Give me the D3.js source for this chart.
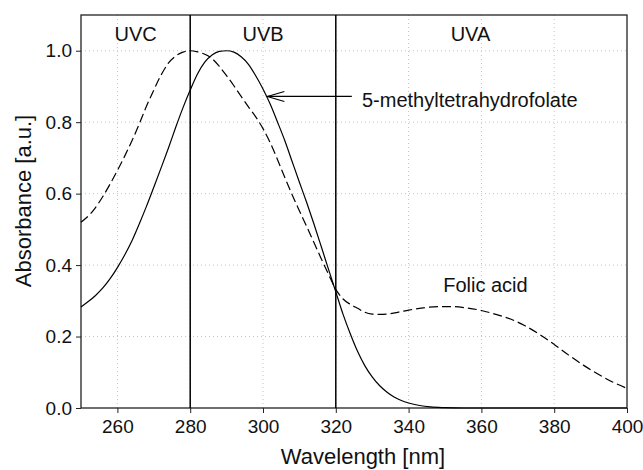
<!DOCTYPE html>
<html>
<head>
<meta charset="utf-8">
<script src="https://cdn.jsdelivr.net/npm/d3@7"></script>
<style>
  body { margin: 0; background: #fff; }
  svg { font-family: "Liberation Sans", Arial, Helvetica, sans-serif; }
</style>
</head>
<body>
<div id="chart"></div>
<script>
// wavelength [nm] / absorbance pairs
let mthfWave = [250, 252, 254, 256, 258, 260, 262, 264, 266, 268, 270, 272, 274, 276, 278, 280, 282, 284, 286, 288, 290,
    292, 294, 296, 298, 300, 302, 304, 306, 308, 310, 312, 314, 316, 318, 320, 322, 324, 326, 328, 330,
    332, 334, 336, 338, 340, 343, 346, 350, 355, 360, 370, 380, 390, 400];
let mthfAbs = [0.283, 0.298, 0.315, 0.336, 0.362, 0.393, 0.428, 0.468, 0.515, 0.565, 0.618, 0.672, 0.727, 0.785, 0.840, 0.890, 0.935, 0.968, 0.988, 0.998, 1.000,
    0.996, 0.983, 0.962, 0.930, 0.893, 0.850, 0.800, 0.748, 0.690, 0.632, 0.575, 0.515, 0.452, 0.388, 0.325, 0.262, 0.207, 0.158, 0.118, 0.087,
    0.063, 0.045, 0.031, 0.021, 0.014, 0.007, 0.003, 0.001, 0, 0, 0, 0, 0, 0];

let folicWave = [250, 253, 256, 258, 260, 262, 264, 266, 268, 270, 272, 274, 276, 278, 280, 282, 284, 286, 288, 290,
    292, 294, 296, 298, 300, 302, 304, 306, 308, 310, 312, 314, 316, 318, 320, 322, 324, 326, 328, 330,
    332, 335, 338, 340, 344, 348, 352, 356, 360, 364, 368, 372, 376, 380, 384, 388, 392, 396, 400];
let folicAbs = [0.520, 0.548, 0.592, 0.627, 0.665, 0.705, 0.748, 0.795, 0.845, 0.890, 0.932, 0.965, 0.985, 0.996, 1.000, 0.997, 0.990, 0.978, 0.956, 0.930,
    0.902, 0.872, 0.843, 0.815, 0.782, 0.742, 0.695, 0.645, 0.597, 0.552, 0.508, 0.463, 0.418, 0.374, 0.332, 0.305, 0.290, 0.279, 0.268, 0.263,
    0.262, 0.264, 0.270, 0.274, 0.280, 0.284, 0.284, 0.280, 0.273, 0.262, 0.249, 0.230, 0.206, 0.178, 0.148, 0.120, 0.095, 0.073, 0.055];

let xTicks = [260, 280, 300, 320, 340, 360, 380, 400];
let yTicks = [0.0, 0.2, 0.4, 0.6, 0.8, 1.0];

// UV band borders and labels
let bandEdges = [280, 320];
let bandNames = ["UVC", "UVB", "UVA"];
let bandCenters = [265, 300, 357];

let width = 643, height = 470;
let margin = {top: 15, right: 16, bottom: 62, left: 81};

let x = d3.scaleLinear().domain([250, 400]).range([margin.left, width - margin.right]);
let y = d3.scaleLinear().domain([0, 1.1]).range([height - margin.bottom, margin.top]);

let svg = d3.select("#chart").append("svg")
    .attr("width", width)
    .attr("height", height);

// dotted grid
svg.append("g")
    .selectAll("line")
    .data(xTicks.filter(d => d < 400))
    .enter().append("line")
    .attr("x1", d => x(d)).attr("x2", d => x(d))
    .attr("y1", y(0)).attr("y2", y(1.1))
    .attr("stroke", "#c4c4c4")
    .attr("stroke-dasharray", "1,3");

svg.append("g")
    .selectAll("line")
    .data(yTicks.filter(d => d > 0))
    .enter().append("line")
    .attr("x1", x(250)).attr("x2", x(400))
    .attr("y1", d => y(d)).attr("y2", d => y(d))
    .attr("stroke", "#c4c4c4")
    .attr("stroke-dasharray", "1,3");

// axes
let xAxis = svg.append("g")
    .attr("transform", "translate(0," + y(0) + ")")
    .call(d3.axisBottom(x).tickValues(xTicks).tickSize(5).tickPadding(7));

let yAxis = svg.append("g")
    .attr("transform", "translate(" + x(250) + ",0)")
    .call(d3.axisLeft(y).tickValues(yTicks).tickFormat(d3.format(".1f")).tickSize(5).tickPadding(4));

[xAxis, yAxis].forEach(function(a) {
    a.select(".domain").remove();
    a.selectAll("text").style("font-size", "19px").attr("fill", "#111");
    a.selectAll("line").attr("stroke", "#222");
});

// frame
svg.append("rect")
    .attr("x", x(250)).attr("y", y(1.1))
    .attr("width", x(400) - x(250))
    .attr("height", y(0) - y(1.1))
    .attr("fill", "none")
    .attr("stroke", "#222")
    .attr("stroke-width", 1.3);

// band borders
svg.append("g")
    .selectAll("line")
    .data(bandEdges)
    .enter().append("line")
    .attr("x1", d => x(d)).attr("x2", d => x(d))
    .attr("y1", y(0)).attr("y2", y(1.1))
    .attr("stroke", "#000")
    .attr("stroke-width", 1.5);

svg.append("g")
    .selectAll("text")
    .data(bandNames)
    .enter().append("text")
    .attr("x", (d, i) => x(bandCenters[i]))
    .attr("y", y(1.026))
    .attr("text-anchor", "middle")
    .style("font-size", "20px")
    .attr("fill", "#111")
    .text(d => d);

// curves
let line = d3.line()
    .x(d => x(d[0]))
    .y(d => y(d[1]))
    .curve(d3.curveMonotoneX);

svg.append("path")
    .datum(d3.zip(mthfWave, mthfAbs))
    .attr("d", line)
    .attr("fill", "none")
    .attr("stroke", "#000")
    .attr("stroke-width", 1.2);

svg.append("path")
    .datum(d3.zip(folicWave, folicAbs))
    .attr("d", line)
    .attr("fill", "none")
    .attr("stroke", "#000")
    .attr("stroke-width", 1.2)
    .attr("stroke-dasharray", "9,4");

// annotations
let tipX = x(301.2), tipY = y(0.872);
svg.append("line")
    .attr("x1", tipX).attr("x2", x(324.4))
    .attr("y1", tipY).attr("y2", tipY)
    .attr("stroke", "#000")
    .attr("stroke-width", 1.2);
svg.append("path")
    .attr("d", "M" + (tipX + 17) + "," + (tipY - 5) + "L" + tipX + "," + tipY + "L" + (tipX + 17) + "," + (tipY + 5))
    .attr("fill", "none")
    .attr("stroke", "#000")
    .attr("stroke-width", 1.1);

svg.append("text")
    .attr("x", x(327.2))
    .attr("y", y(0.843))
    .style("font-size", "20px")
    .attr("fill", "#111")
    .text("5-methyltetrahydrofolate");

svg.append("text")
    .attr("x", x(349.5))
    .attr("y", y(0.324))
    .style("font-size", "20px")
    .attr("fill", "#111")
    .text("Folic acid");

// axis titles
svg.append("text")
    .attr("x", (x(250) + x(400)) / 2 + 9)
    .attr("y", 464)
    .attr("text-anchor", "middle")
    .style("font-size", "22px")
    .attr("fill", "#111")
    .text("Wavelength [nm]");

svg.append("text")
    .attr("transform", "translate(31," + 201 + ") rotate(-90)")
    .attr("text-anchor", "middle")
    .style("font-size", "22px")
    .attr("fill", "#111")
    .text("Absorbance [a.u.]");
</script>
</body>
</html>
